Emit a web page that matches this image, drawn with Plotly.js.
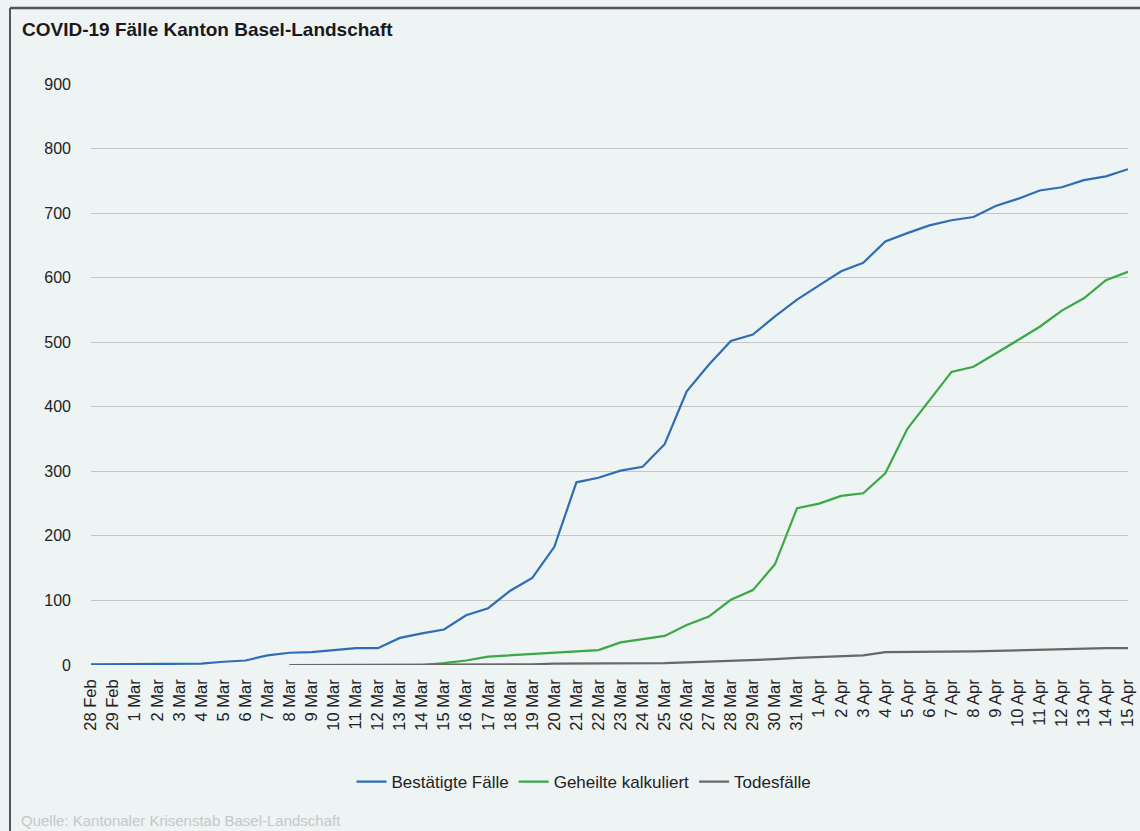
<!DOCTYPE html>
<html>
<head>
<meta charset="utf-8">
<script src="https://cdn.plot.ly/plotly-3.0.1.min.js"></script>
<style>
html,body{margin:0;padding:0;background:#eef3f4;}
#chart{width:1140px;height:831px;}
</style>
</head>
<body>
<div id="chart"></div>
<script>
const dates = ["28 Feb","29 Feb","1 Mar","2 Mar","3 Mar","4 Mar","5 Mar","6 Mar","7 Mar","8 Mar",
  "9 Mar","10 Mar","11 Mar","12 Mar","13 Mar","14 Mar","15 Mar","16 Mar","17 Mar","18 Mar",
  "19 Mar","20 Mar","21 Mar","22 Mar","23 Mar","24 Mar","25 Mar","26 Mar","27 Mar","28 Mar",
  "29 Mar","30 Mar","31 Mar","1 Apr","2 Apr","3 Apr","4 Apr","5 Apr","6 Apr","7 Apr",
  "8 Apr","9 Apr","10 Apr","11 Apr","12 Apr","13 Apr","14 Apr","15 Apr"];

const confirmed = [1,1,1,1,1,2,5,7,15,19,
  20,23,26,26,42,49,55,77,88,115,
  135,183,283,290,301,307,342,424,465,502,
  512,540,566,588,610,623,656,669,681,689,
  694,711,722,735,740,751,757,768];

// from 8 Mar
const laterDates = dates.slice(9);
const recovered = [0,0,0,0,0,0,0,3,7,13,
  15,16,18,21,23,35,40,45,62,75,
  101,116,156,243,250,262,266,297,366,410,
  454,462,482,503,524,549,568,596,609];

const deaths = [0,0,0,0,0,0,0,1,1,1,
  1,1,2,2,2,3,3,3,4,5,
  6,7,9,11,12,14,15,20,20,20,
  20,21,22,23,23,24,25,26,26];

const title = "COVID-19 Fälle Kanton Basel-Landschaft";
const source = "Quelle: Kantonaler Krisenstab Basel-Landschaft";
const yTicks = [0,100,200,300,400,500,600,700,800,900];

const font = "Liberation Sans, Arial, sans-serif";

const traces = [
  {x: dates, y: confirmed, name: "Bestätigte Fälle", type: "scatter", mode: "lines",
   line: {color: "#2f6db5", width: 2.2}},
  {x: laterDates, y: recovered, name: "Geheilte kalkuliert", type: "scatter", mode: "lines",
   line: {color: "#3aa844", width: 2.2}},
  {x: laterDates, y: deaths, name: "Todesfälle", type: "scatter", mode: "lines",
   line: {color: "#686868", width: 2.2}}
];

// plot area: x 91..1128, y 84..665
const L = 91, R = 1140-1128, T = 84, B = 831-665;
const pw = 1140 - L - R, ph = 831 - T - B;
const px = v => (v - L) / pw;
const py = v => (831 - B - v) / ph;

const layout = {
  width: 1140, height: 831,
  paper_bgcolor: "#eef3f4", plot_bgcolor: "#eef3f4",
  margin: {l: L, r: R, t: T, b: B},
  font: {family: font, color: "#222", size: 16},
  title: {text: "<b>" + title + "</b>", x: 22/1140, xref: "container", xanchor: "left",
          y: 1 - 29/831, yref: "container", yanchor: "middle",
          font: {family: font, size: 19, color: "#1a1a1a"}},
  xaxis: {type: "category", categoryorder: "array", categoryarray: dates,
          range: [0, dates.length - 1], tickangle: -90, tickmode: "array",
          tickvals: dates, ticktext: dates, showgrid: false, zeroline: false,
          showline: false, ticks: "", ticklabelstandoff: 10,
          tickfont: {family: font, size: 16.5, color: "#222"}, fixedrange: true},
  yaxis: {range: [0, 900], tickvals: yTicks, ticktext: yTicks.map(String),
          showgrid: true, gridcolor: "#c4c6c6", gridwidth: 1, zeroline: false,
          showline: false, ticks: "", ticklabelstandoff: 19,
          tickfont: {family: font, size: 16, color: "#222"}},
  showlegend: true,
  legend: {orientation: "h", x: 584/1140, xref: "container", xanchor: "center",
           y: 1 - 782/831, yref: "container", yanchor: "middle",
           bgcolor: "rgba(0,0,0,0)", font: {family: font, size: 17, color: "#222"},
           itemwidth: 30, tracegroupgap: 0},
  annotations: [{text: source, xref: "paper", yref: "paper", x: px(19), y: py(820),
                 xanchor: "left", yanchor: "middle", showarrow: false,
                 font: {family: font, size: 15, color: "#c3c9c9"}}],
  shapes: [
    {type: "line", xref: "paper", yref: "paper", x0: px(10), x1: px(1140), y0: py(8), y1: py(8),
     line: {color: "#555", width: 2.5}},
    {type: "line", xref: "paper", yref: "paper", x0: px(10), x1: px(10), y0: py(8), y1: py(831),
     line: {color: "#555", width: 2}}
  ]
};

Plotly.newPlot("chart", traces, layout, {displayModeBar: false, staticPlot: true});
</script>
</body>
</html>
